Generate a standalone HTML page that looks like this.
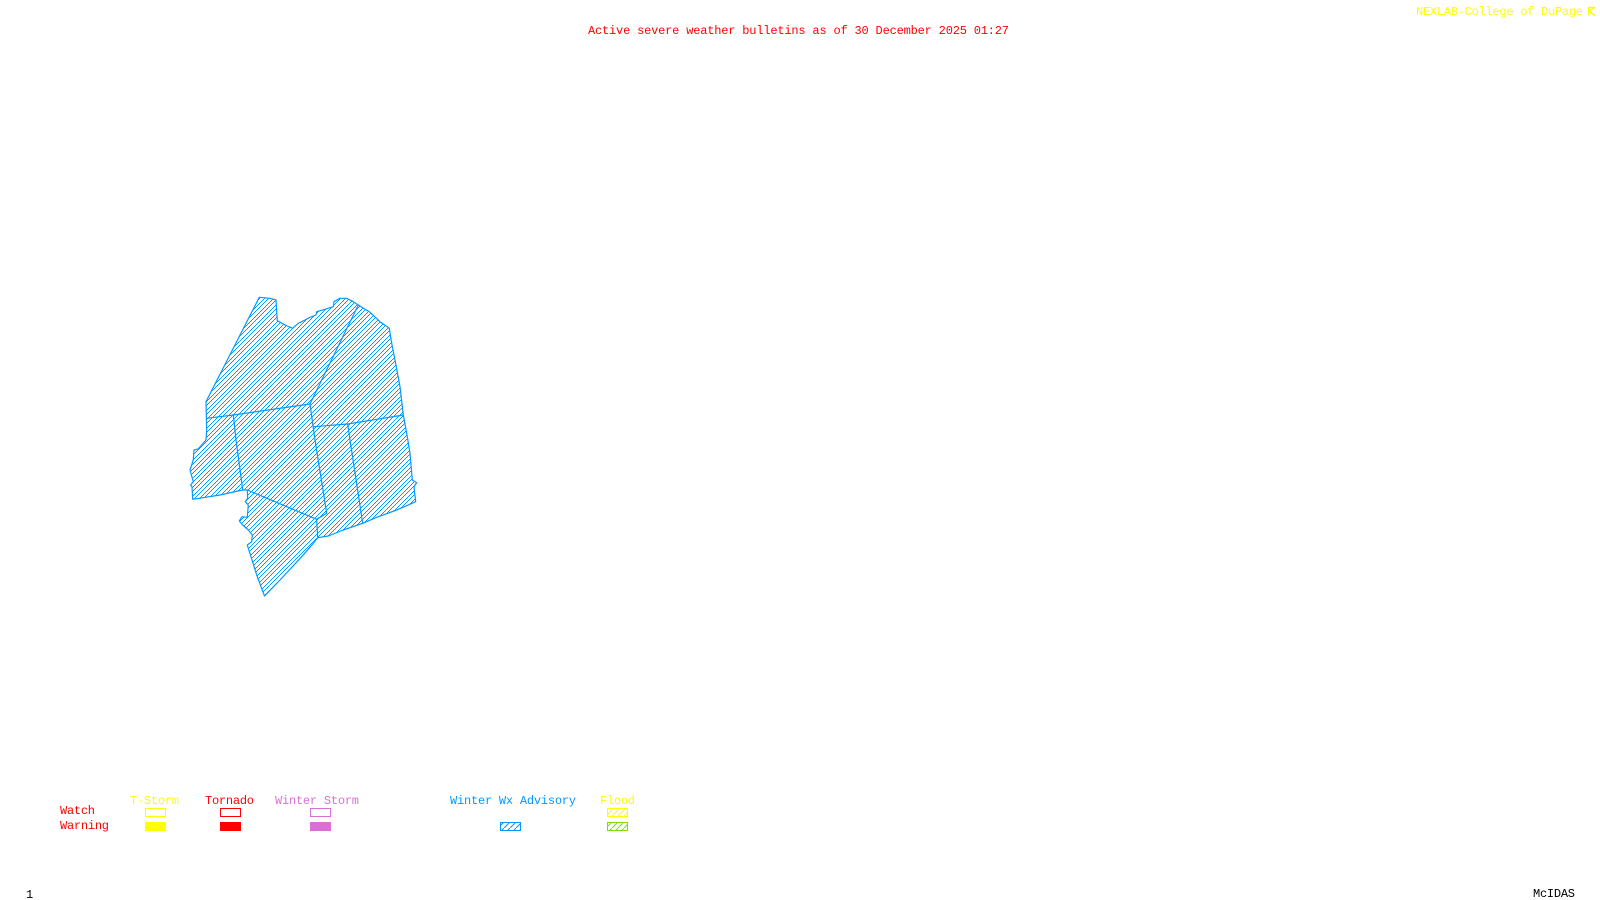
<!DOCTYPE html>
<html><head><meta charset="utf-8"><style>
html,body{margin:0;padding:0;background:#fff;width:1600px;height:900px;overflow:hidden}
svg{display:block}
text{font-family:"Liberation Mono",monospace;font-size:12px;letter-spacing:0}
</style></head><body>
<svg width="1600" height="900" viewBox="0 0 1600 900" xmlns="http://www.w3.org/2000/svg">
<defs>
<pattern id="hb" width="9" height="9" patternUnits="userSpaceOnUse"><g fill="#0099ff" shape-rendering="crispEdges">
<rect x="0" y="8" width="1" height="1"/><rect x="1" y="7" width="1" height="1"/><rect x="2" y="6" width="1" height="1"/><rect x="3" y="5" width="1" height="1"/><rect x="4" y="4" width="1" height="1"/><rect x="5" y="3" width="1" height="1"/><rect x="6" y="2" width="1" height="1"/><rect x="7" y="1" width="1" height="1"/><rect x="8" y="0" width="1" height="1"/>
<rect x="0" y="4" width="1" height="1"/><rect x="1" y="3" width="1" height="1"/><rect x="2" y="2" width="1" height="1"/><rect x="3" y="1" width="1" height="1"/><rect x="4" y="0" width="1" height="1"/><rect x="5" y="8" width="1" height="1"/><rect x="6" y="7" width="1" height="1"/><rect x="7" y="6" width="1" height="1"/><rect x="8" y="5" width="1" height="1"/>
</g></pattern>
<pattern id="hs" width="6" height="6" patternUnits="userSpaceOnUse"><path d="M-1 7L7 -1" stroke="#0099ff" fill="none"/></pattern>
<pattern id="hy" width="6" height="6" patternUnits="userSpaceOnUse"><path d="M-1 7L7 -1" stroke="#ffff00" fill="none"/></pattern>
<pattern id="hg" width="6" height="6" patternUnits="userSpaceOnUse"><path d="M-1 7L7 -1" stroke="#7fdf00" fill="none"/></pattern>
</defs>
<polygon fill="url(#hb)" stroke="#0099ff" stroke-width="1.2" stroke-linejoin="round" points="259.3,297.3 270,298.3 276,300 277.3,320.7 285,325 292.7,328.3 298.3,323.3 305,320 310,317.3 316,315 316.7,311.7 325,309.3 333.3,306.7 334,301.7 340,298.3 346.7,298.3 353.3,301.7 358.3,305 370,312.3 380,321.7 389.3,328.3 391.7,343.3 395,360 400,386.7 403.3,415 407.3,436.7 410,453.3 412.3,480 416.7,482.7 414,486.7 415.7,501.7 396.7,510 376.7,517.3 362.7,523.3 343.3,530 328.3,536 317.7,537.7 313.3,543.3 301.7,556.7 280,580 264.5,596 256.7,575 247.3,545 251.7,541.7 252.3,535 248.3,530 242.7,525 239.3,521 242,516.7 247.3,517.3 248.3,505 245.3,501.7 247.7,498.3 247.3,490 242.7,490 220,495 192.7,499.3 192,486.7 190.7,485 193.3,481.7 190,470 193.3,460 194,450 198,449 201.7,445 206,440 206.7,430 206,401.7"/>
<g fill="none" stroke="#0099ff" stroke-width="1.2">
<polyline points="206.7,418.3 233.3,415 310,404"/>
<polyline points="358.3,305 310,404 315,440 326.7,513.3 316.7,519.3"/>
<polyline points="233.3,415 236,440 242.7,490"/>
<polyline points="247.3,490 316.7,519.3 317.7,537.7"/>
<polyline points="313.3,426.7 347.7,424 403.3,415"/>
<polyline points="347.7,424 350,440 362.7,523.3"/>
</g>
<text x="588" y="34" fill="#ff0000" textLength="421">Active severe weather bulletins as of 30 December 2025 01:27</text>
<text x="1416" y="15" fill="#ffff00" textLength="167">NEXLAB-College of DuPage</text>
<path d="M1588.5 15.5V7.5H1595M1588.5 11L1595 15.5M1588.5 11L1594 8" fill="none" stroke="#ffff00" stroke-width="1.4"/>
<text x="130" y="804" fill="#ffff00" textLength="49">T-Storm</text>
<text x="205" y="804" fill="#ff0000" textLength="49">Tornado</text>
<text x="275" y="804" fill="#da70d6" textLength="84">Winter Storm</text>
<text x="450" y="804" fill="#0099ff" textLength="126">Winter Wx Advisory</text>
<text x="600" y="804" fill="#ffff00" textLength="35">Flood</text>
<text x="60" y="814" fill="#ff0000" textLength="35">Watch</text>
<text x="60" y="829" fill="#ff0000" textLength="49">Warning</text>
<g shape-rendering="crispEdges" stroke-width="1">
<rect x="145.5" y="808.5" width="20" height="8" fill="none" stroke="#ffff00"/>
<rect x="145" y="822" width="21" height="9" fill="#ffff00"/>
<rect x="220.5" y="808.5" width="20" height="8" fill="none" stroke="#ff0000"/>
<rect x="220" y="822" width="21" height="9" fill="#ff0000"/>
<rect x="310.5" y="808.5" width="20" height="8" fill="none" stroke="#da70d6"/>
<rect x="310" y="822" width="21" height="9" fill="#da70d6"/>
<rect x="500.5" y="822.5" width="20" height="8" fill="url(#hs)" stroke="#0099ff"/>
<rect x="607.5" y="808.5" width="20" height="8" fill="url(#hy)" stroke="#ffff00"/>
<rect x="607.5" y="822.5" width="20" height="8" fill="url(#hg)" stroke="#7fdf00"/>
</g>
<text x="26" y="898" fill="#000">1</text>
<text x="1533" y="897" fill="#000" textLength="42">McIDAS</text>
</svg>
</body></html>
